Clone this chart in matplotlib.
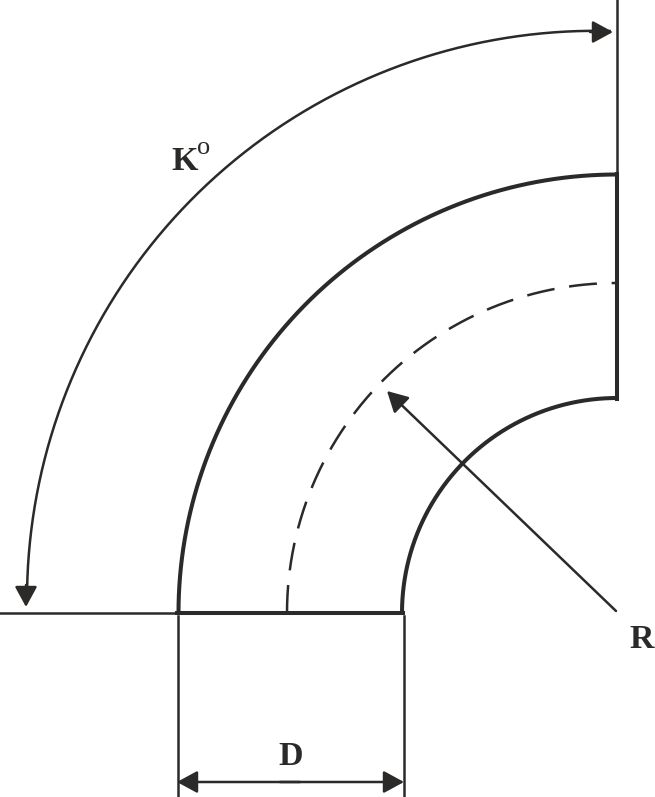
import matplotlib
matplotlib.use("Agg")
import matplotlib.pyplot as plt
import numpy as np

# centre of the bend, picture pixels
cx, cy = 617, 613
radii = [438.5, 215]
r_mid = 330
# the dimension arc has its own centre
arrow_c = (595.9, 599.7)
r_arrow = 568.9
labels = ["K", "o", "R", "D"]

W, H = 655, 797
fig = plt.figure(figsize=(W / 100, H / 100), dpi=100)
ax = fig.add_axes([0, 0, 1, 1])
ax.set_xlim(0, W)
ax.set_ylim(H, 0)
ax.axis("off")
ink = "#2b2a29"
thin = 1.8
thick = 2.9


def arc(r, a0=180, a1=90, c=(cx, cy)):
    a = np.radians(np.linspace(a0, a1, 300))
    return c[0] + r * np.cos(a), c[1] - r * np.sin(a)


for r in radii:
    x, y = arc(r)
    ax.plot(x, y, color=ink, lw=thick, solid_capstyle="butt")

# dashes run from the bottom end
x, y = arc(r_mid)
ax.plot(x, y, color=ink, lw=thin, dashes=(11.2, 5.9), dash_capstyle="butt")

x, y = arc(r_arrow, 179, 88.5, arrow_c)
ax.plot(x, y, color=ink, lw=thin, solid_capstyle="butt")


def head(tip, tail):
    ax.annotate("", xy=tip, xytext=tail,
                arrowprops=dict(arrowstyle="-|>,head_length=1.25,head_width=0.68",
                                color=ink, lw=thin, shrinkA=0, shrinkB=0,
                                mutation_scale=10))


head((613, 32), (590, 32))
head((26, 607), (26, 585))
head((387, 391), (616, 611))
head((177, 782), (300, 782))
head((404, 782), (280, 782))

ax.plot([617, 617], [0, 175], color=ink, lw=thin)
ax.plot([617, 617], [174, 399], color=ink, lw=thick)
ax.plot([0, 178], [613, 613], color=ink, lw=thin)
ax.plot([177, 403], [613, 613], color=ink, lw=thick)
ax.plot([178, 178], [616, 796], color=ink, lw=thin)
ax.plot([404, 404], [616, 796], color=ink, lw=thin)

font = dict(family="Liberation Serif", weight="bold", color=ink)
ax.text(171, 170, labels[0], fontsize=24.5, **font)
ax.text(197, 154, labels[1], fontsize=19, family="Liberation Serif", color=ink)
ax.text(629, 648, labels[2], fontsize=24.5, **font)
ax.text(278, 765, labels[3], fontsize=24.5, **font)

fig.savefig("out.png", dpi=100)
